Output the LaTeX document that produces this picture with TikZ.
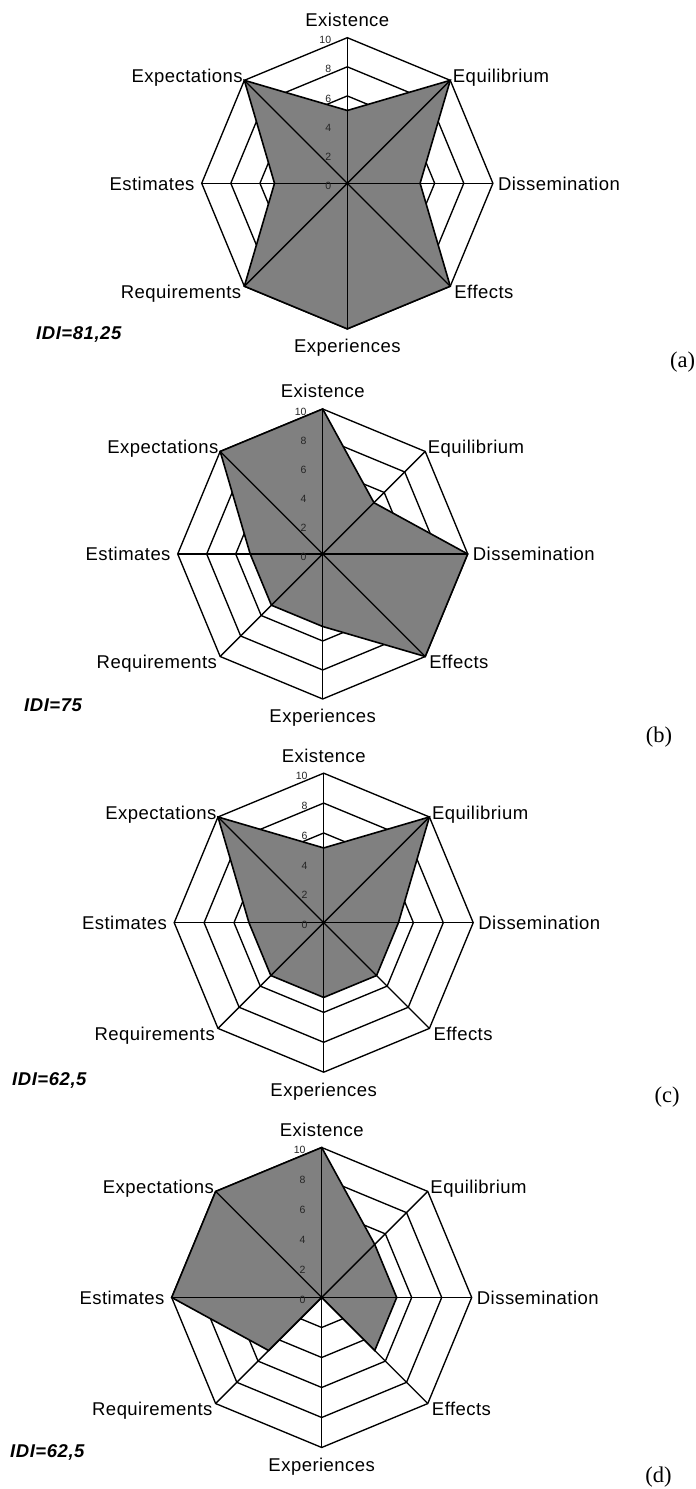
\documentclass[tikz,border=0pt]{standalone}
\usepackage{fontspec}
\newfontfamily\labfont{Liberation Sans}[LetterSpace=2.5]
\newfontfamily\idifont{Liberation Sans}[LetterSpace=3]
\newfontfamily\tickfont{Liberation Sans}
\newfontfamily\letfont{Liberation Serif}
\definecolor{polygray}{RGB}{128,128,128}
\tikzset{
  gridline/.style={draw=black, line width=1.35pt, line join=miter},
  spoke/.style={draw=black, line width=1.35pt},
  datapoly/.style={draw=black, fill=polygray, line width=1.6pt, line join=miter},
  ticklab/.style={anchor=east, inner sep=0pt, font=\tickfont\fontsize{10.5}{12}\selectfont, text=black!85},
  axlab/.style={inner sep=0pt, font=\labfont\fontsize{18.5}{21}\selectfont},
  idilab/.style={anchor=base west, inner sep=0pt, font=\idifont\fontsize{18.5}{21}\selectfont\bfseries\itshape},
  letlab/.style={anchor=base, inner sep=0pt, font=\letfont\fontsize{22.5}{26}\selectfont}
}
\newcommand\radarchart[5]{%
\begin{scope}[shift={(#2,#3)}]
  \coordinate (#1c) at (0,0);
  \foreach \k in {0,...,7} {\coordinate (#1v\k) at ({90-45*\k}:#4);}
  \foreach \s in {2,4,6,8,10} {
    \pgfmathsetmacro\rr{\s*#4/10}
    \draw[gridline] (90:\rr) -- (45:\rr) -- (0:\rr) -- (-45:\rr) -- (-90:\rr) -- (-135:\rr) -- (180:\rr) -- (135:\rr) -- cycle;
  }
  \foreach \v [count=\k from 0] in {#5} {
    \pgfmathsetmacro\dd{\v*#4/10}
    \coordinate (#1d\k) at ({90-45*\k}:\dd);
  }
  \draw[datapoly] (#1d0) -- (#1d1) -- (#1d2) -- (#1d3) -- (#1d4) -- (#1d5) -- (#1d6) -- (#1d7) -- cycle;
  \foreach \k in {0,...,7} {\draw[spoke] (#1c) -- (#1v\k);}
  \foreach \s in {0,2,4,6,8,10} {
    \pgfmathsetmacro\ty{\s*#4/10-2.5}
    \node[ticklab] (#1t\s) at (-16,\ty) {\s};
  }
  \node[axlab, anchor=base] (#1n0) at ([shift={(0,11)}]#1v0) {Existence};
  \node[axlab, anchor=base west] (#1n1) at ([shift={(2.5,-2.5)}]#1v1) {Equilibrium};
  \node[axlab, anchor=base west] (#1n2) at ([shift={(5,-7)}]#1v2) {Dissemination};
  \node[axlab, anchor=base west] (#1n3) at ([shift={(4,-12)}]#1v3) {Effects};
  \node[axlab, anchor=base] (#1n4) at ([shift={(0,-24)}]#1v4) {Experiences};
  \node[axlab, anchor=base east] (#1n5) at ([shift={(-3,-12)}]#1v5) {Requirements};
  \node[axlab, anchor=base east] (#1n6) at ([shift={(-7,-7)}]#1v6) {Estimates};
  \node[axlab, anchor=base east] (#1n7) at ([shift={(-1.5,-2.5)}]#1v7) {Expectations};
\end{scope}}
\begin{document}
\begin{tikzpicture}[x=1pt,y=1pt]
  \useasboundingbox[fill=white] (0,0) rectangle (696,1489);
  \radarchart{a}{347.3}{1305.7}{145.6}{5,10,5,10,10,10,5,10}
  \radarchart{b}{322.7}{935}{145}{10,5,10,10,5,5,5,10}
  \radarchart{c}{323.7}{566.3}{149.5}{5,10,5,5,5,5,5,10}
  \radarchart{d}{321.7}{191.5}{150}{10,5,5,5,0,5,10,10}
  \node[idilab] (idia) at (36,1149) {IDI=81,25};
  \node[idilab] (idib) at (24,777) {IDI=75};
  \node[idilab] (idic) at (12,403.7) {IDI=62,5};
  \node[idilab] (idid) at (10,31) {IDI=62,5};
  \node[letlab] (leta) at (682.5,1121.4) {(a)};
  \node[letlab] (letb) at (659,746.4) {(b)};
  \node[letlab] (letc) at (667,386.4) {(c)};
  \node[letlab] (letd) at (658.5,6.4) {(d)};
\end{tikzpicture}
\end{document}
